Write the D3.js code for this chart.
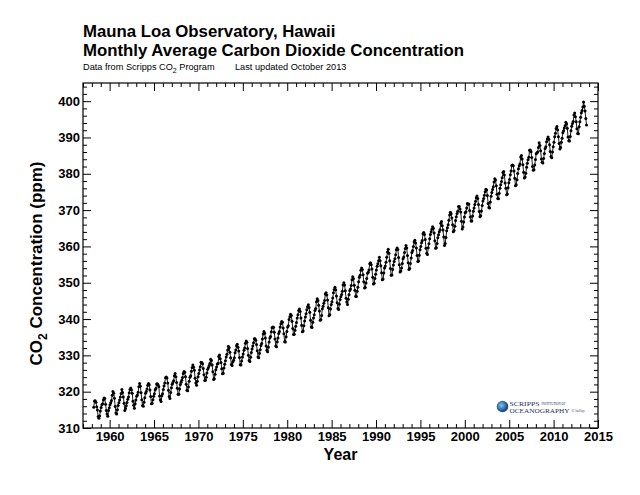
<!DOCTYPE html>
<html>
<head>
<meta charset="utf-8">
<script src="https://cdn.jsdelivr.net/npm/d3@7"></script>
<style>
  body { margin: 0; background: #fff; }
  svg { display: block; font-family: "Liberation Sans", Arial, Helvetica, sans-serif; }
</style>
</head>
<body>
<svg id="chart" width="640" height="495"></svg>
<script>
// Mauna Loa monthly CO2 (ppm), one row per year, first row starts in March 1958
const firstYear = 1958;
const firstMonth = 3;
const co2Rows = [
  [315.71, 317.45, 317.50, 317.10, 315.86, 314.93, 313.20, 312.66, 313.33, 314.67],
  [315.62, 316.38, 316.71, 317.72, 318.29, 318.15, 316.54, 314.80, 313.84, 313.26, 314.80, 315.58],
  [316.43, 316.97, 317.58, 319.02, 320.03, 319.59, 318.18, 315.91, 314.16, 313.83, 315.00, 316.19],
  [316.93, 317.70, 318.54, 319.48, 320.58, 319.77, 318.57, 316.79, 314.80, 315.38, 316.10, 317.01],
  [317.94, 318.56, 319.68, 320.63, 321.01, 320.55, 319.58, 317.40, 316.26, 315.42, 316.69, 317.69],
  [318.74, 319.08, 319.86, 321.39, 322.25, 321.47, 319.74, 317.77, 316.21, 315.99, 317.12, 318.31],
  [319.57, 320.07, 320.73, 321.77, 322.25, 321.89, 320.44, 318.70, 316.70, 316.79, 317.79, 318.71],
  [319.44, 320.44, 320.89, 322.13, 322.16, 321.87, 321.39, 318.81, 317.81, 317.30, 318.87, 319.42],
  [320.62, 321.59, 322.39, 323.87, 324.01, 323.75, 322.39, 320.37, 318.64, 318.10, 319.79, 321.08],
  [322.07, 322.50, 323.04, 324.42, 325.00, 324.09, 322.55, 320.92, 319.31, 319.31, 320.72, 321.96],
  [322.57, 323.15, 323.89, 325.02, 325.57, 325.36, 324.14, 322.03, 320.41, 320.25, 321.31, 322.84],
  [324.00, 324.42, 325.64, 326.66, 327.34, 326.76, 325.88, 323.67, 322.38, 321.78, 322.85, 324.11],
  [325.03, 325.99, 326.87, 328.13, 328.07, 327.66, 326.35, 324.69, 323.10, 323.16, 323.98, 325.13],
  [326.17, 326.68, 327.18, 327.78, 328.92, 328.57, 327.34, 325.46, 323.36, 323.57, 324.80, 326.01],
  [326.77, 327.63, 327.75, 329.72, 330.07, 329.09, 328.05, 326.32, 324.93, 325.06, 326.50, 327.55],
  [328.54, 329.56, 330.30, 331.50, 332.48, 332.07, 330.87, 329.31, 327.51, 327.18, 328.16, 328.64],
  [329.35, 330.71, 331.48, 332.65, 333.09, 332.25, 331.18, 329.40, 327.43, 327.37, 328.46, 329.57],
  [330.40, 331.40, 332.04, 333.31, 333.96, 333.59, 331.91, 330.06, 328.56, 328.34, 329.49, 330.76],
  [331.75, 332.56, 333.50, 334.58, 334.57, 334.19, 332.96, 331.29, 329.53, 329.32, 330.59, 331.52],
  [332.75, 333.24, 334.53, 335.90, 336.57, 336.10, 334.76, 332.59, 331.42, 330.98, 332.24, 333.68],
  [334.80, 335.22, 336.47, 337.59, 337.84, 337.72, 336.37, 334.51, 332.60, 332.38, 333.75, 334.78],
  [336.05, 336.59, 337.79, 338.71, 339.30, 339.12, 337.56, 335.92, 333.75, 333.70, 335.12, 336.56],
  [337.84, 338.19, 339.91, 340.60, 341.29, 341.00, 339.39, 337.43, 335.72, 335.84, 336.93, 338.04],
  [339.06, 340.30, 341.21, 342.33, 342.74, 342.08, 340.32, 338.26, 336.52, 336.68, 338.19, 339.44],
  [340.57, 341.44, 342.53, 343.39, 343.96, 343.18, 341.88, 339.65, 337.81, 337.69, 339.09, 340.32],
  [341.20, 342.35, 342.93, 344.77, 345.58, 345.14, 343.81, 342.21, 339.69, 339.82, 340.98, 342.82],
  [343.52, 344.33, 345.11, 346.88, 347.25, 346.62, 345.22, 343.11, 340.90, 341.18, 342.80, 344.04],
  [344.79, 345.82, 347.25, 348.17, 348.74, 348.07, 346.38, 344.51, 342.92, 342.62, 344.06, 345.38],
  [346.11, 346.78, 347.68, 349.37, 350.03, 349.37, 347.76, 345.73, 344.68, 343.99, 345.48, 346.72],
  [347.84, 348.29, 349.23, 350.80, 351.66, 351.07, 349.33, 347.92, 346.27, 346.18, 347.64, 348.78],
  [350.25, 351.54, 352.05, 353.41, 354.04, 353.62, 352.22, 350.27, 348.55, 348.72, 349.91, 351.18],
  [352.60, 352.92, 353.53, 355.26, 355.52, 354.97, 353.75, 351.52, 349.64, 349.83, 351.14, 352.37],
  [353.50, 354.55, 355.23, 356.04, 357.00, 356.07, 354.67, 352.76, 350.82, 351.04, 352.69, 354.07],
  [354.59, 355.63, 357.03, 358.48, 359.22, 358.12, 356.06, 353.92, 352.05, 352.11, 353.64, 354.89],
  [355.88, 356.63, 357.72, 359.07, 359.58, 359.17, 356.94, 354.92, 352.94, 353.23, 354.09, 355.33],
  [356.63, 357.10, 358.32, 359.41, 360.23, 359.55, 357.53, 355.48, 353.67, 353.95, 355.30, 356.78],
  [358.34, 358.89, 359.95, 361.25, 361.67, 360.94, 359.55, 357.49, 355.84, 356.00, 357.59, 359.05],
  [359.98, 361.03, 361.66, 363.48, 363.82, 363.30, 361.94, 359.50, 358.11, 357.80, 359.61, 360.74],
  [362.09, 363.29, 364.06, 364.76, 365.45, 365.01, 363.70, 361.54, 359.51, 359.65, 360.80, 362.38],
  [363.23, 364.06, 364.61, 366.40, 366.84, 365.68, 364.52, 362.57, 360.24, 360.83, 362.49, 364.34],
  [365.16, 365.98, 367.24, 368.66, 369.42, 368.99, 367.82, 365.95, 364.02, 364.40, 365.52, 367.13],
  [368.18, 369.07, 369.68, 370.99, 370.96, 370.30, 369.45, 366.90, 364.81, 365.37, 366.72, 368.10],
  [369.29, 369.54, 370.60, 371.82, 371.58, 371.70, 369.86, 368.13, 367.00, 367.03, 368.37, 369.67],
  [370.59, 371.51, 372.43, 373.37, 373.85, 373.21, 371.51, 369.61, 368.18, 368.45, 369.76, 371.24],
  [372.53, 373.20, 374.12, 375.02, 375.76, 375.52, 374.01, 371.85, 370.75, 370.55, 372.25, 373.79],
  [374.88, 375.64, 376.45, 377.73, 378.60, 378.28, 376.70, 374.38, 373.17, 373.14, 374.66, 375.99],
  [377.00, 377.87, 378.88, 380.35, 380.62, 379.69, 377.47, 376.01, 374.25, 374.46, 376.16, 377.51],
  [378.46, 379.73, 380.77, 382.29, 382.45, 382.21, 380.74, 378.74, 376.70, 377.00, 378.35, 380.11],
  [381.38, 382.19, 382.67, 384.61, 385.03, 384.05, 382.46, 380.41, 378.85, 379.13, 380.15, 381.82],
  [382.89, 383.90, 384.58, 386.50, 386.56, 386.10, 384.50, 381.99, 380.96, 381.12, 382.45, 383.95],
  [385.52, 385.82, 386.03, 387.21, 388.54, 387.76, 386.36, 384.09, 383.18, 382.99, 384.19, 385.56],
  [386.94, 387.48, 388.82, 389.55, 390.14, 389.48, 388.03, 386.11, 384.74, 384.43, 386.02, 387.42],
  [388.71, 390.20, 391.17, 392.46, 393.00, 392.15, 390.20, 388.35, 386.85, 387.24, 388.67, 389.79],
  [391.33, 391.86, 392.60, 393.25, 394.19, 393.73, 392.51, 390.13, 389.08, 389.00, 390.28, 391.86],
  [393.12, 393.86, 394.40, 396.18, 396.74, 395.71, 394.36, 392.39, 391.11, 391.05, 392.98, 394.34],
  [395.55, 396.80, 397.43, 398.41, 399.78, 398.61, 397.32, 395.20, 393.45]
];

const xDomain = [1957, 2015];
const yDomain = [310, 405];
const xTickYears = [1960, 1965, 1970, 1975, 1980, 1985, 1990, 1995, 2000, 2005, 2010, 2015];
const yTickValues = [310, 320, 330, 340, 350, 360, 370, 380, 390, 400];

const titleLines = ["Mauna Loa Observatory, Hawaii", "Monthly Average Carbon Dioxide Concentration"];
const lastUpdated = "Last updated October 2013";

// flatten rows into {t, v}
const data = [];
co2Rows.forEach((row, i) => {
  const year = firstYear + i;
  const m0 = i === 0 ? firstMonth - 1 : 0;
  row.forEach((v, j) => {
    data.push({ t: year + (m0 + j + 0.5) / 12, v: v });
  });
});

const svg = d3.select("#chart");
const plot = { left: 83, right: 598, top: 83, bottom: 428 };

const x = d3.scaleLinear().domain(xDomain).range([plot.left, plot.right]);
const y = d3.scaleLinear().domain(yDomain).range([plot.bottom, plot.top]);

// titles
svg.selectAll("text.title")
  .data(titleLines)
  .enter()
  .append("text")
  .attr("class", "title")
  .attr("x", plot.left)
  .attr("y", (d, i) => 37 + i * 18.5)
  .attr("font-size", 16.8)
  .attr("font-weight", "bold")
  .text(d => d);

const sub = svg.append("text")
  .attr("x", plot.left)
  .attr("y", 70)
  .attr("font-size", 9.2);
sub.append("tspan").text("Data from Scripps CO");
sub.append("tspan").attr("dy", 3).attr("font-size", 7).text("2");
sub.append("tspan").attr("dy", -3).text(" Program");
sub.append("tspan").attr("x", plot.left + 152).text(lastUpdated);

// data
const line = d3.line().x(d => x(d.t)).y(d => y(d.v));

svg.append("path")
  .datum(data)
  .attr("d", line)
  .attr("fill", "none")
  .attr("stroke", "#000")
  .attr("stroke-width", 0.9);

svg.append("g")
  .selectAll("circle")
  .data(data)
  .enter()
  .append("circle")
  .attr("cx", d => x(d.t))
  .attr("cy", d => y(d.v))
  .attr("r", 1.5)
  .attr("fill", "#000");

// axes: IDL style, ticks inward on all four sides
const axisStyle = g => {
  g.select(".domain").remove();
  g.selectAll("line").attr("stroke", "#000").attr("stroke-width", 1);
  g.selectAll("text").attr("font-size", 13).attr("font-weight", "bold").attr("fill", "#000");
};

const xMinor = d3.range(xDomain[0], xDomain[1] + 1, 1).filter(v => v % 5 !== 0);
const yMinor = d3.range(yDomain[0], yDomain[1] + 1, 2).filter(v => v % 10 !== 0);

// bottom
svg.append("g")
  .attr("transform", `translate(0,${plot.bottom})`)
  .call(d3.axisBottom(x).tickValues(xTickYears).tickFormat(d3.format("d")).tickSizeInner(-8).tickPadding(4))
  .call(axisStyle);
svg.append("g")
  .attr("transform", `translate(0,${plot.bottom})`)
  .call(d3.axisBottom(x).tickValues(xMinor).tickFormat("").tickSizeInner(-4))
  .call(axisStyle);
// top
svg.append("g")
  .attr("transform", `translate(0,${plot.top})`)
  .call(d3.axisTop(x).tickValues(xTickYears).tickFormat("").tickSizeInner(-8))
  .call(axisStyle);
svg.append("g")
  .attr("transform", `translate(0,${plot.top})`)
  .call(d3.axisTop(x).tickValues(xMinor).tickFormat("").tickSizeInner(-4))
  .call(axisStyle);
// left
svg.append("g")
  .attr("transform", `translate(${plot.left},0)`)
  .call(d3.axisLeft(y).tickValues(yTickValues).tickFormat(d3.format("d")).tickSizeInner(-8).tickPadding(3))
  .call(axisStyle);
svg.append("g")
  .attr("transform", `translate(${plot.left},0)`)
  .call(d3.axisLeft(y).tickValues(yMinor).tickFormat("").tickSizeInner(-4))
  .call(axisStyle);
// right
svg.append("g")
  .attr("transform", `translate(${plot.right},0)`)
  .call(d3.axisRight(y).tickValues(yTickValues).tickFormat("").tickSizeInner(-8))
  .call(axisStyle);
svg.append("g")
  .attr("transform", `translate(${plot.right},0)`)
  .call(d3.axisRight(y).tickValues(yMinor).tickFormat("").tickSizeInner(-4))
  .call(axisStyle);

// frame
svg.append("rect")
  .attr("x", plot.left)
  .attr("y", plot.top)
  .attr("width", plot.right - plot.left)
  .attr("height", plot.bottom - plot.top)
  .attr("fill", "none")
  .attr("stroke", "#000")
  .attr("stroke-width", 1.2);

// axis titles
svg.append("text")
  .attr("x", (plot.left + plot.right) / 2)
  .attr("y", 460)
  .attr("text-anchor", "middle")
  .attr("font-size", 16)
  .attr("font-weight", "bold")
  .text("Year");

const yt = svg.append("text")
  .attr("transform", `translate(42,${(plot.top + plot.bottom) / 2 + 8}) rotate(-90)`)
  .attr("text-anchor", "middle")
  .attr("font-size", 17)
  .attr("font-weight", "bold");
yt.append("tspan").text("CO");
yt.append("tspan").attr("dy", 5).attr("font-size", 12).text("2");
yt.append("tspan").attr("dy", -5).text(" Concentration (ppm)");

// Scripps logo
const defs = svg.append("defs");
const grad = defs.append("radialGradient").attr("id", "globe").attr("cx", "40%").attr("cy", "40%");
grad.append("stop").attr("offset", "0%").attr("stop-color", "#7fc4ea");
grad.append("stop").attr("offset", "100%").attr("stop-color", "#1a4f8f");

const logo = svg.append("g").attr("transform", "translate(502.5,406.5)");
logo.append("circle").attr("r", 5.8).attr("fill", "url(#globe)");
logo.append("text")
  .attr("x", 7).attr("y", -0.8)
  .attr("font-family", "Liberation Serif, serif")
  .attr("font-size", 6.8)
  .attr("fill", "#1f2f5e")
  .attr("textLength", 30)
  .attr("lengthAdjust", "spacingAndGlyphs")
  .text("SCRIPPS");
logo.append("text")
  .attr("x", 39).attr("y", -1.5)
  .attr("font-family", "Liberation Serif, serif")
  .attr("font-size", 3)
  .attr("fill", "#1f2f5e")
  .attr("textLength", 24)
  .attr("lengthAdjust", "spacingAndGlyphs")
  .text("INSTITUTION OF");
logo.append("text")
  .attr("x", 7).attr("y", 6.3)
  .attr("font-family", "Liberation Serif, serif")
  .attr("font-size", 6.5)
  .attr("fill", "#1f2f5e")
  .attr("textLength", 60)
  .attr("lengthAdjust", "spacingAndGlyphs")
  .text("OCEANOGRAPHY");
logo.append("text")
  .attr("x", 69).attr("y", 5.8)
  .attr("font-family", "Liberation Serif, serif")
  .attr("font-size", 3)
  .attr("fill", "#1f2f5e")
  .attr("textLength", 13)
  .attr("lengthAdjust", "spacingAndGlyphs")
  .text("UC San Diego");
</script>
</body>
</html>
